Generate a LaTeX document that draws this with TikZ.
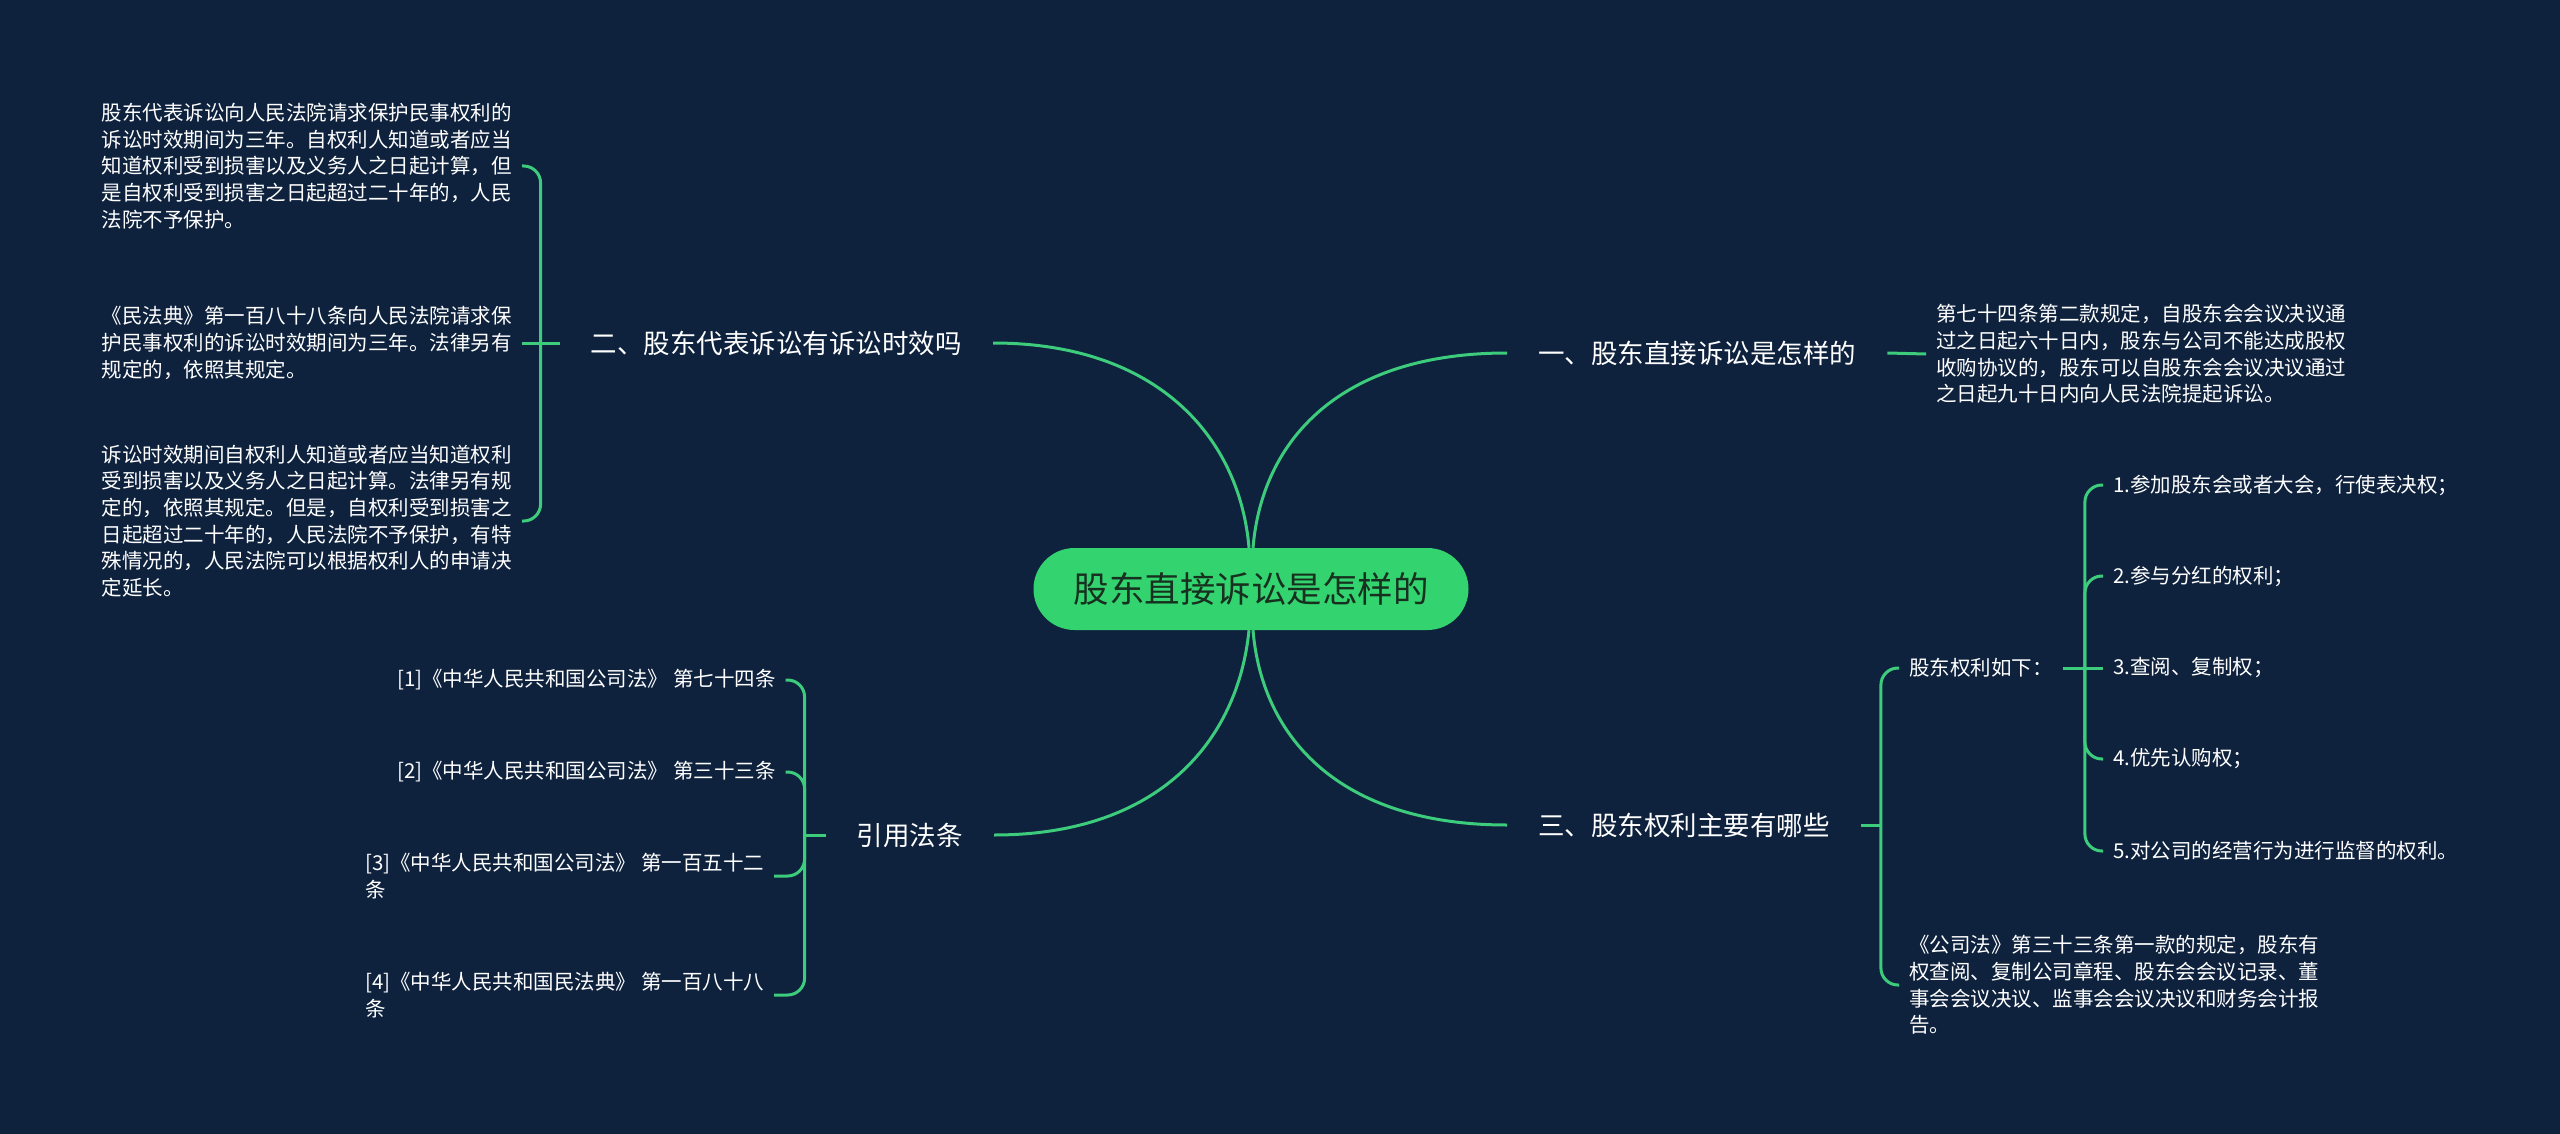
\documentclass[tikz,border=0pt]{standalone}
\usepackage{fontspec}
\setmainfont{Noto Sans CJK SC}
\usetikzlibrary{calc}
\definecolor{bg}{HTML}{0E223E}
\definecolor{ln}{HTML}{3DCB7C}
\definecolor{rootfill}{HTML}{33D46F}
\definecolor{roottext}{HTML}{17301F}
\begin{document}
\begin{tikzpicture}[x=1pt,y=-1pt,
  link/.style={draw=ln,line width=3pt},
  brk/.style={link,rounded corners=17pt},
  rootbox/.style={fill=rootfill,rounded corners=41pt,minimum width=435pt,minimum height=82pt,text=roottext,font=\fontsize{35.5}{42}\selectfont,inner sep=0pt},
  branch/.style={text=white,font=\fontsize{26.5}{32}\selectfont,inner xsep=31pt,inner ysep=4pt},
  leaf/.style={text=white,font=\fontsize{20.5}{26.7}\selectfont,inner xsep=10pt,inner ysep=3pt,align=left},
]
\fill[bg] (0,0) rectangle (2560,1134);
\useasboundingbox (0,0) rectangle (2560,1134);

% root and branches
\node[rootbox] (root) at (1251,589) {股东直接诉讼是怎样的};
\node[branch,anchor=west] (b1) at (1507,353) {一、股东直接诉讼是怎样的};
\node[branch,anchor=east] (b2) at (993,343) {二、股东代表诉讼有诉讼时效吗};
\node[branch,anchor=west] (b3) at (1507,825) {三、股东权利主要有哪些};
\node[branch,anchor=east] (b4) at (994,835) {引用法条};

% leaves of b1
\node[leaf,anchor=west] (a1) at (1926,354) {第七十四条第二款规定，自股东会会议决议通\\过之日起六十日内，股东与公司不能达成股权\\收购协议的，股东可以自股东会会议决议通过\\之日起九十日内向人民法院提起诉讼。};

% leaves of b2
\node[leaf,anchor=east] (d1) at (522,166) {股东代表诉讼向人民法院请求保护民事权利的\\诉讼时效期间为三年。自权利人知道或者应当\\知道权利受到损害以及义务人之日起计算，但\\是自权利受到损害之日起超过二十年的，人民\\法院不予保护。};
\node[leaf,anchor=east] (d2) at (522,343) {《民法典》第一百八十八条向人民法院请求保\\护民事权利的诉讼时效期间为三年。法律另有\\规定的，依照其规定。};
\node[leaf,anchor=east] (d3) at (522,521) {诉讼时效期间自权利人知道或者应当知道权利\\受到损害以及义务人之日起计算。法律另有规\\定的，依照其规定。但是，自权利受到损害之\\日起超过二十年的，人民法院不予保护，有特\\殊情况的，人民法院可以根据权利人的申请决\\定延长。};

% leaves of b4
\node[leaf,anchor=west] (e1) at (387,680) {[1]《中华人民共和国公司法》 第七十四条};
\node[leaf,anchor=west] (e2) at (387,772) {[2]《中华人民共和国公司法》 第三十三条};
\node[leaf,anchor=west] (e3) at (355,876) {[3]《中华人民共和国公司法》 第一百五十二\\条};
\node[leaf,anchor=west] (e4) at (355,995) {[4]《中华人民共和国民法典》 第一百八十八\\条};

% leaves of b3
\node[leaf,anchor=west] (f1) at (1899,668) {股东权利如下：};
\node[leaf,anchor=west] (f2) at (1899,985) {《公司法》第三十三条第一款的规定，股东有\\权查阅、复制公司章程、股东会会议记录、董\\事会会议决议、监事会会议决议和财务会计报\\告。};

% leaves of f1
\node[leaf,anchor=west] (g1) at (2103,485) {1.参加股东会或者大会，行使表决权；};
\node[leaf,anchor=west] (g2) at (2103,576) {2.参与分红的权利；};
\node[leaf,anchor=west] (g3) at (2103,668) {3.查阅、复制权；};
\node[leaf,anchor=west] (g4) at (2103,759) {4.优先认购权；};
\node[leaf,anchor=west] (g5) at (2103,851) {5.对公司的经营行为进行监督的权利。};

% root connectors
\draw[link] ([xshift=-2pt]root.north) .. controls (1240,440) and (1160,343) .. (b2.east);
\draw[link] ([xshift=2pt]root.north) .. controls (1262,440) and (1340,353) .. (b1.west);
\draw[link] ([xshift=2pt]root.south) .. controls (1262,738) and (1340,825) .. (b3.west);
\draw[link] ([xshift=-2pt]root.south) .. controls (1238,740) and (1160,835) .. (b4.east);

% b1
\draw[link] (b1.east) -- (a1.west);

% b2 bracket
\coordinate (j2) at ([xshift=-19pt]b2.west);
\draw[link] (b2.west) -- (d2.east);
\draw[brk] (j2) |- (d1.east);
\draw[brk] (j2) |- (d3.east);

% b4 bracket
\coordinate (j4) at ([xshift=-21pt]b4.west);
\draw[link] (b4.west) -- (j4);
\draw[brk] (j4) |- (e1.east);
\draw[brk] (j4) |- (e2.east);
\draw[brk] (j4) |- (e3.east);
\draw[brk] (j4) |- (e4.east);

% b3 bracket
\coordinate (j3) at ([xshift=20pt]b3.east);
\draw[link] (b3.east) -- (j3);
\draw[brk] (j3) |- (f1.west);
\draw[brk] (j3) |- (f2.west);

% f1 bracket
\coordinate (j5) at ([xshift=22pt]f1.east);
\draw[link] (f1.east) -- (g3.west);
\draw[brk] (j5) |- (g1.west);
\draw[brk] (j5) |- (g2.west);
\draw[brk] (j5) |- (g4.west);
\draw[brk] (j5) |- (g5.west);
\end{tikzpicture}
\end{document}
